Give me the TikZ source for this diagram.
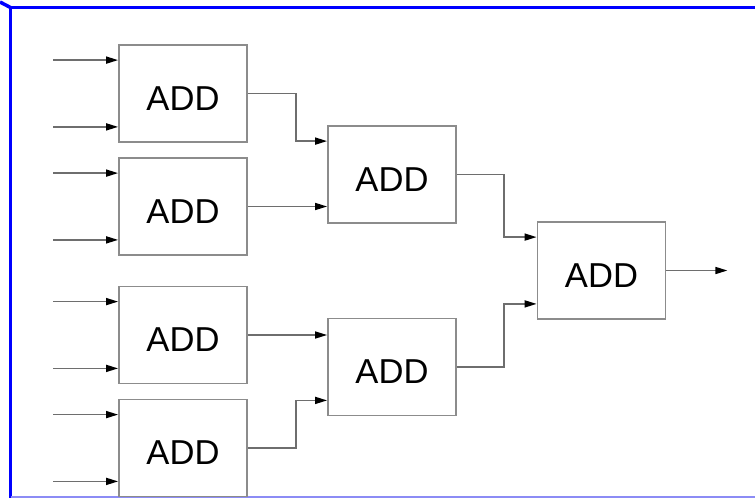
\documentclass[tikz,border=0pt]{standalone}
\usepackage{fontspec}
\setmainfont{Liberation Sans}
\usetikzlibrary{arrows.meta,calc}
\definecolor{frameblue}{RGB}{0,0,255}
\definecolor{framelight}{RGB}{140,140,245}
\definecolor{boxgray}{RGB}{140,140,140}
\definecolor{wiregray}{RGB}{110,110,110}
\tikzset{
  addbox/.style={draw=boxgray, line width=1.8pt, fill=white, minimum width=128pt, minimum height=97pt,
    inner sep=0pt, text height=33pt, text depth=0pt, font=\fontsize{34.6}{40}\selectfont},
  wire/.style={draw=wiregray, line width=1.6pt, -{Triangle[length=12pt,width=7pt,black]}},
  plainwire/.style={draw=wiregray, line width=1.6pt}
}
\begin{document}
\begin{tikzpicture}[x=1pt,y=-1pt]
\useasboundingbox (0,0) rectangle (755,498);
% frame
\draw[frameblue, line width=3.5pt] (0,2) -- (10.5,7.5);
\draw[frameblue, line width=3.5pt] (755,7.5) -- (10.5,7.5) -- (10.5,498);
\draw[framelight, line width=2pt] (10.5,497) -- (755,497);
% boxes
\node[addbox] (b1) at (183,93.5) {ADD};
\node[addbox] (b2) at (183,206.5) {ADD};
\node[addbox] (b3) at (183,335) {ADD};
\node[addbox] (b4) at (183,448) {ADD};
\node[addbox] (b5) at (392,174.5) {ADD};
\node[addbox] (b6) at (392,367) {ADD};
\node[addbox] (b7) at (601.5,270.5) {ADD};
% inputs
\foreach \b in {b1,b2,b3,b4}{
  \coordinate (\b ia) at ($(\b.north west)+(-65,16)$);
  \coordinate (\b ib) at ($(\b.south west)+(-65,-16)$);
  \draw[wire] (\b ia) -- (\b ia -| \b.west);
  \draw[wire] (\b ib) -- (\b ib -| \b.west);
}
% stage-2 input points
\coordinate (b5a) at ($(b5.north west)+(0,16)$);
\coordinate (b6b) at ($(b6.south west)+(0,-16)$);
\coordinate (b7a) at ($(b7.north west)+(0,16)$);
\coordinate (b7b) at ($(b7.south west)+(0,-16)$);
% connections
\draw[wire] (b1.east) -- ++(48,0) |- (b5a);
\draw[wire] (b2.east) -- (b2.east -| b5.west);
\draw[wire] (b3.east) -- (b3.east -| b6.west);
\draw[wire] (b4.east) -- ++(48,0) |- (b6b);
\draw[wire] (b5.east) -- ++(47,0) |- (b7a);
\draw[wire] (b6.east) -- ++(47,0) |- (b7b);
\coordinate (out) at ($(b7.east)+(61,0)$);
\draw[wire] (b7.east) -- (out);
\end{tikzpicture}
\end{document}
